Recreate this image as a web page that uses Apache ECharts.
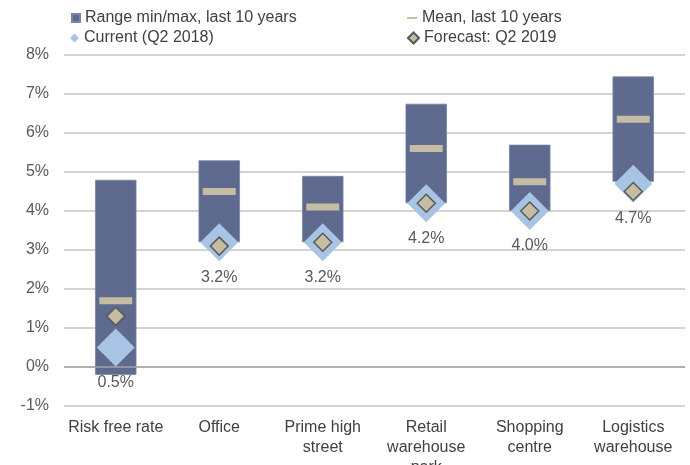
<!DOCTYPE html>
<html>
<head>
<meta charset="utf-8">
<script src="https://cdn.jsdelivr.net/npm/echarts@6/dist/echarts.min.js"></script>
<style>
  html, body { margin: 0; padding: 0; background: #fff; }
  #chart { width: 690px; height: 465px; }
</style>
</head>
<body>
<div id="chart"></div>
<script>
const categories = ['Risk free rate', 'Office', 'Prime high\nstreet', 'Retail\nwarehouse\npark', 'Shopping\ncentre', 'Logistics\nwarehouse']
const rangeMin = [-0.2, 3.2, 3.2, 4.2, 4.0, 4.75]
const rangeMax = [4.8, 5.3, 4.9, 6.75, 5.7, 7.45]
const meanValues = [1.7, 4.5, 4.1, 5.6, 4.75, 6.35]
const currentValues = [0.5, 3.2, 3.2, 4.2, 4.0, 4.7]
const forecastValues = [1.3, 3.1, 3.2, 4.2, 4.0, 4.5]

const fontFamily = '"Liberation Sans", Arial, sans-serif'
const rangeSpan = rangeMax.map((v, i) => +(v - rangeMin[i]).toFixed(2))

const legendBase = {
  padding: 0,
  itemGap: 0,
  selectedMode: false,
  textStyle: { color: '#404040', fontSize: 16, fontFamily: fontFamily }
}

const options = {
  animation: false,
  grid: {
    left: 64,
    right: 5,
    top: 55,
    bottom: 59,
    containLabel: false,
    outerBoundsMode: 'none'
  },
  legend: [
    Object.assign({}, legendBase, {
      left: 71, top: 10, itemWidth: 8, itemHeight: 8, icon: 'rect',
      data: ['Range min/max, last 10 years']
    }),
    Object.assign({}, legendBase, {
      left: 70, top: 30, itemWidth: 9, itemHeight: 9, icon: 'diamond',
      data: ['Current (Q2 2018)']
    }),
    Object.assign({}, legendBase, {
      left: 407, top: 10, itemWidth: 10, itemHeight: 2, icon: 'rect',
      data: ['Mean, last 10 years']
    }),
    Object.assign({}, legendBase, {
      left: 407, top: 30, itemWidth: 11, itemHeight: 11, icon: 'diamond',
      data: ['Forecast: Q2 2019']
    })
  ],
  xAxis: {
    type: 'category',
    data: categories,
    axisLine: { show: false },
    axisTick: { show: false },
    axisLabel: {
      color: '#404040',
      fontSize: 16,
      fontFamily: fontFamily,
      lineHeight: 20,
      margin: 12,
      interval: 0
    }
  },
  yAxis: {
    type: 'value',
    min: -1,
    max: 8,
    interval: 1,
    axisLine: { show: false },
    axisTick: { show: false },
    axisLabel: {
      formatter: '{value}%',
      color: '#595959',
      fontSize: 16,
      fontFamily: fontFamily,
      margin: 15
    },
    splitLine: { lineStyle: { color: '#c4c4c4', width: 1.5 } }
  },
  series: [
    {
      name: 'base',
      type: 'bar',
      stack: 'range',
      stackStrategy: 'all',
      barWidth: '40%',
      itemStyle: { color: 'transparent' },
      data: rangeMin,
      z: 1
    },
    {
      name: 'Range min/max, last 10 years',
      type: 'bar',
      stack: 'range',
      stackStrategy: 'all',
      barWidth: '40%',
      itemStyle: { color: '#5f6a8f', borderColor: '#7a84a5', borderWidth: 0.8 },
      data: rangeSpan,
      z: 2,
      markLine: {
        silent: true,
        symbol: 'none',
        label: { show: false },
        lineStyle: { color: '#a3a3a3', width: 1.5, type: 'solid' },
        data: [{ yAxis: 0 }]
      }
    },
    {
      name: 'Mean, last 10 years',
      type: 'scatter',
      symbol: 'rect',
      symbolSize: [33, 7],
      itemStyle: { color: '#c5bda3', opacity: 1 },
      data: meanValues,
      z: 3
    },
    {
      name: 'Current (Q2 2018)',
      type: 'scatter',
      symbol: 'diamond',
      symbolSize: 38,
      itemStyle: { color: '#a8c4e4', opacity: 1 },
      label: {
        show: true,
        position: 'bottom',
        distance: 8,
        color: '#595959',
        fontSize: 16,
        fontFamily: fontFamily,
        formatter: function (p) {
          return p.value.toFixed(1) + '%'
        }
      },
      data: currentValues,
      z: 4
    },
    {
      name: 'Forecast: Q2 2019',
      type: 'scatter',
      symbol: 'diamond',
      symbolSize: 18,
      itemStyle: { color: '#c5bda3', borderColor: '#595959', borderWidth: 1.5, opacity: 1 },
      data: forecastValues,
      z: 5
    }
  ]
}

const chart = echarts.init(document.getElementById('chart'))
chart.setOption(options)
window.addEventListener('resize', function () {
  chart.resize()
})
</script>
</body>
</html>
